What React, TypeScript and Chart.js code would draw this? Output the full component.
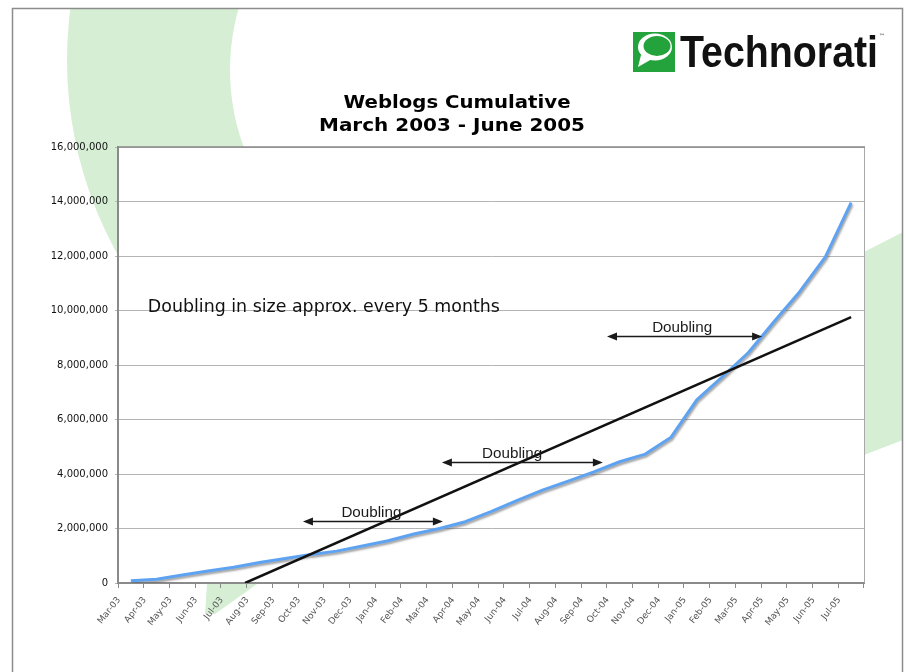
import React, { useEffect, useRef } from "react";
import { Chart, registerables } from "chart.js";

Chart.register(...registerables);

// ---------- data ----------
const months = [
  "Mar-03", "Apr-03", "May-03", "Jun-03", "Jul-03", "Aug-03", "Sep-03", "Oct-03",
  "Nov-03", "Dec-03", "Jan-04", "Feb-04", "Mar-04", "Apr-04", "May-04", "Jun-04",
  "Jul-04", "Aug-04", "Sep-04", "Oct-04", "Nov-04", "Dec-04", "Jan-05", "Feb-05",
  "Mar-05", "Apr-05", "May-05", "Jun-05", "Jul-05",
];
const weblogs = [
  85000, 135000, 290000, 440000, 575000, 750000, 900000, 1050000,
  1170000, 1360000, 1550000, 1800000, 2000000, 2250000, 2620000, 3020000,
  3410000, 3740000, 4080000, 4450000, 4730000, 5350000, 6720000, 7570000,
  8450000, 9590000, 10690000, 11970000, 13960000,
];
const yMin = 0;
const yMax = 16000000;
const yStep = 2000000;

// trend line (x in month-index units)
const trendX = [4.44, 28];
const trendY = [0, 9760000];

// "Doubling" arrows (x in month-index units)
const arrowFrom = [6.69, 12.09, 18.51];
const arrowTo = [12.13, 18.35, 24.54];
const arrowY = [2280000, 4440000, 9060000];
const arrowLabelX = [9.35, 14.82, 21.43];
const arrowLabel = "Doubling";

const noteText = "Doubling in size approx. every 5 months";
const noteX = 0.66;
const noteY = 10150000;

const titleLines = ["Weblogs Cumulative", "March 2003 - June 2005"];
const brand = "Technorati";

// ---------- helpers ----------
const fmt = (v: number) => String(Math.round(v)).replace(/\B(?=(\d{3})+(?!\d))/g, ",");

function fitText(
  ctx: CanvasRenderingContext2D,
  text: string,
  x: number,
  y: number,
  width: number,
  font: string,
  align: CanvasTextAlign,
  baseline: CanvasTextBaseline = "alphabetic"
) {
  ctx.save();
  ctx.font = font;
  const w = ctx.measureText(text).width || 1;
  ctx.translate(x, y);
  ctx.scale(width / w, 1);
  ctx.textAlign = align;
  ctx.textBaseline = baseline;
  ctx.fillText(text, 0, 0);
  ctx.restore();
}

const backgroundPlugin = {
  id: "bg",
  beforeDraw(chart: any) {
    const { ctx, chartArea: ca, width, height } = chart;
    ctx.save();
    ctx.fillStyle = "#ffffff";
    ctx.fillRect(0, 0, width, height);

    // decorative green swooshes
    ctx.fillStyle = "#d6efd4";
    ctx.save();
    ctx.beginPath();
    ctx.rect(13, 9, 250, height);
    ctx.clip();
    ctx.beginPath();
    ctx.arc(467, 60, 400, 0, Math.PI * 2);
    ctx.moveTo(453 + 223, 70);
    ctx.arc(453, 70, 223, 0, Math.PI * 2);
    ctx.fill("evenodd");
    ctx.restore();

    ctx.beginPath();
    ctx.moveTo(864, 252);
    ctx.lineTo(903, 232);
    ctx.lineTo(903, 440);
    ctx.lineTo(864, 455);
    ctx.closePath();
    ctx.fill();

    ctx.beginPath();
    ctx.moveTo(207, 584);
    ctx.lineTo(257, 584);
    ctx.lineTo(215, 614);
    ctx.lineTo(205, 614);
    ctx.closePath();
    ctx.fill();

    // page frame
    ctx.strokeStyle = "#8c8c8c";
    ctx.lineWidth = 1.5;
    ctx.strokeRect(12.5, 8.5, 890, 700);

    // plot area background
    ctx.fillStyle = "#ffffff";
    ctx.fillRect(ca.left, ca.top, ca.right - ca.left, ca.bottom - ca.top);

    // logo
    ctx.fillStyle = "#24a33c";
    ctx.fillRect(633, 32, 42, 40);
    ctx.fillStyle = "#ffffff";
    ctx.beginPath();
    ctx.ellipse(655, 47, 17, 13.5, 0, 0, Math.PI * 2);
    ctx.fill();
    ctx.beginPath();
    ctx.moveTo(641, 55);
    ctx.lineTo(638, 67);
    ctx.lineTo(652, 59);
    ctx.closePath();
    ctx.fill();
    ctx.fillStyle = "#24a33c";
    ctx.beginPath();
    ctx.ellipse(657, 46, 13.5, 10, 0, 0, Math.PI * 2);
    ctx.fill();

    ctx.fillStyle = "#111111";
    fitText(ctx, brand, 680, 67, 198, 'bold 44px "Liberation Sans"', "left");
    ctx.font = '6px "DejaVu Sans"';
    ctx.textAlign = "left";
    ctx.fillText("\u2122", 879, 38);

    // title
    ctx.fillStyle = "#000000";
    fitText(ctx, titleLines[0], 457, 108, 227, 'bold 18px "DejaVu Sans"', "center");
    fitText(ctx, titleLines[1], 452, 131, 266, 'bold 18px "DejaVu Sans"', "center");
    ctx.restore();
  },
  beforeDatasetsDraw(chart: any) {
    const { ctx, chartArea: ca } = chart;
    ctx.save();
    ctx.strokeStyle = "#a8a8a8";
    ctx.lineWidth = 1;
    ctx.beginPath();
    ctx.moveTo(ca.right + 0.5, ca.top);
    ctx.lineTo(ca.right + 0.5, ca.bottom);
    ctx.stroke();
    ctx.strokeStyle = "#8a8a8a";
    ctx.lineWidth = 1.5;
    ctx.beginPath();
    ctx.moveTo(ca.left, ca.top);
    ctx.lineTo(ca.right + 1, ca.top);
    ctx.stroke();
    ctx.restore();
  },
  beforeDatasetDraw(chart: any, args: any) {
    if (chart.data.datasets[args.index].label === "Weblogs") {
      const ctx = chart.ctx;
      ctx.save();
      ctx.shadowColor = "rgba(90,90,90,0.55)";
      ctx.shadowOffsetX = 1;
      ctx.shadowOffsetY = 2;
      ctx.shadowBlur = 2;
    }
  },
  afterDatasetDraw(chart: any, args: any) {
    if (chart.data.datasets[args.index].label === "Weblogs") {
      chart.ctx.restore();
    }
  },
  afterDatasetsDraw(chart: any) {
    const { ctx } = chart;
    const xs = chart.scales.x2;
    const ys = chart.scales.y;
    ctx.save();
    ctx.fillStyle = "#1a1a1a";
    ctx.strokeStyle = "#1a1a1a";
    for (let i = 0; i < arrowFrom.length; i++) {
      const x1 = xs.getPixelForValue(arrowFrom[i]);
      const x2 = xs.getPixelForValue(arrowTo[i]);
      const y = Math.round(ys.getPixelForValue(arrowY[i])) + 0.5;
      ctx.lineWidth = 1.5;
      ctx.beginPath();
      ctx.moveTo(x1 + 6, y);
      ctx.lineTo(x2 - 6, y);
      ctx.stroke();
      ctx.beginPath();
      ctx.moveTo(x1, y);
      ctx.lineTo(x1 + 10, y - 4);
      ctx.lineTo(x1 + 10, y + 4);
      ctx.closePath();
      ctx.fill();
      ctx.beginPath();
      ctx.moveTo(x2, y);
      ctx.lineTo(x2 - 10, y - 4);
      ctx.lineTo(x2 - 10, y + 4);
      ctx.closePath();
      ctx.fill();
      fitText(ctx, arrowLabel, xs.getPixelForValue(arrowLabelX[i]), y - 5, 60, '15px "Liberation Sans"', "center");
    }
    ctx.fillStyle = "#111111";
    fitText(
      ctx,
      noteText,
      xs.getPixelForValue(noteX),
      ys.getPixelForValue(noteY) + 6,
      352,
      '17px "DejaVu Sans"',
      "left"
    );
    ctx.restore();
  },
};

export default function App() {
  const canvasRef = useRef<HTMLCanvasElement | null>(null);

  useEffect(() => {
    const canvas = canvasRef.current;
    if (!canvas) return;
    const chart = new Chart(canvas, {
      type: "line",
      data: {
        labels: months,
        datasets: [
          {
            label: "Trend",
            xAxisID: "x2",
            yAxisID: "y",
            data: trendX.map((x, i) => ({ x, y: trendY[i] })),
            borderColor: "#111111",
            borderWidth: 2.5,
            pointRadius: 0,
            tension: 0,
          },
          {
            label: "Weblogs",
            xAxisID: "x",
            yAxisID: "y",
            data: weblogs,
            borderColor: "#5ea3f2",
            borderWidth: 3,
            pointRadius: 0,
            tension: 0,
            borderJoinStyle: "round",
          },
        ],
      },
      options: {
        animation: false,
        responsive: false,
        devicePixelRatio: 1,
        layout: { padding: { left: 0, right: 42, top: 147, bottom: 0 } },
        plugins: {
          legend: { display: false },
          tooltip: { enabled: false },
          title: { display: false },
        },
        scales: {
          x: {
            type: "category",
            offset: true,
            afterFit: (s: any) => {
              s.height = 89;
            },
            grid: {
              offset: true,
              drawOnChartArea: false,
              drawTicks: true,
              tickLength: 5,
              color: "#8a8a8a",
            },
            border: { display: true, color: "#8a8a8a", width: 2 },
            ticks: {
              autoSkip: false,
              minRotation: 52,
              maxRotation: 52,
              padding: 7,
              labelOffset: -12,
              color: "#555555",
              font: { family: "DejaVu Sans", size: 9 },
            },
          },
          x2: {
            type: "linear",
            display: false,
            min: -0.5,
            max: months.length - 0.5,
          },
          y: {
            min: yMin,
            max: yMax,
            afterFit: (s: any) => {
              s.width = 118;
            },
            grid: {
              color: "#b4b4b4",
              tickLength: 3,
              lineWidth: 1,
            },
            border: { display: true, color: "#8a8a8a", width: 2 },
            ticks: {
              stepSize: yStep,
              padding: 7,
              color: "#111111",
              font: { family: "DejaVu Sans", size: 10 },
              callback: (v: any) => fmt(Number(v)),
            },
          },
        },
      },
      plugins: [backgroundPlugin],
    });
    return () => chart.destroy();
  }, []);

  return (
    <div style={{ position: "fixed", left: 0, top: 0, width: 906, height: 672 }}>
      <canvas ref={canvasRef} width={906} height={672} style={{ display: "block", width: 906, height: 672 }} />
    </div>
  );
}
